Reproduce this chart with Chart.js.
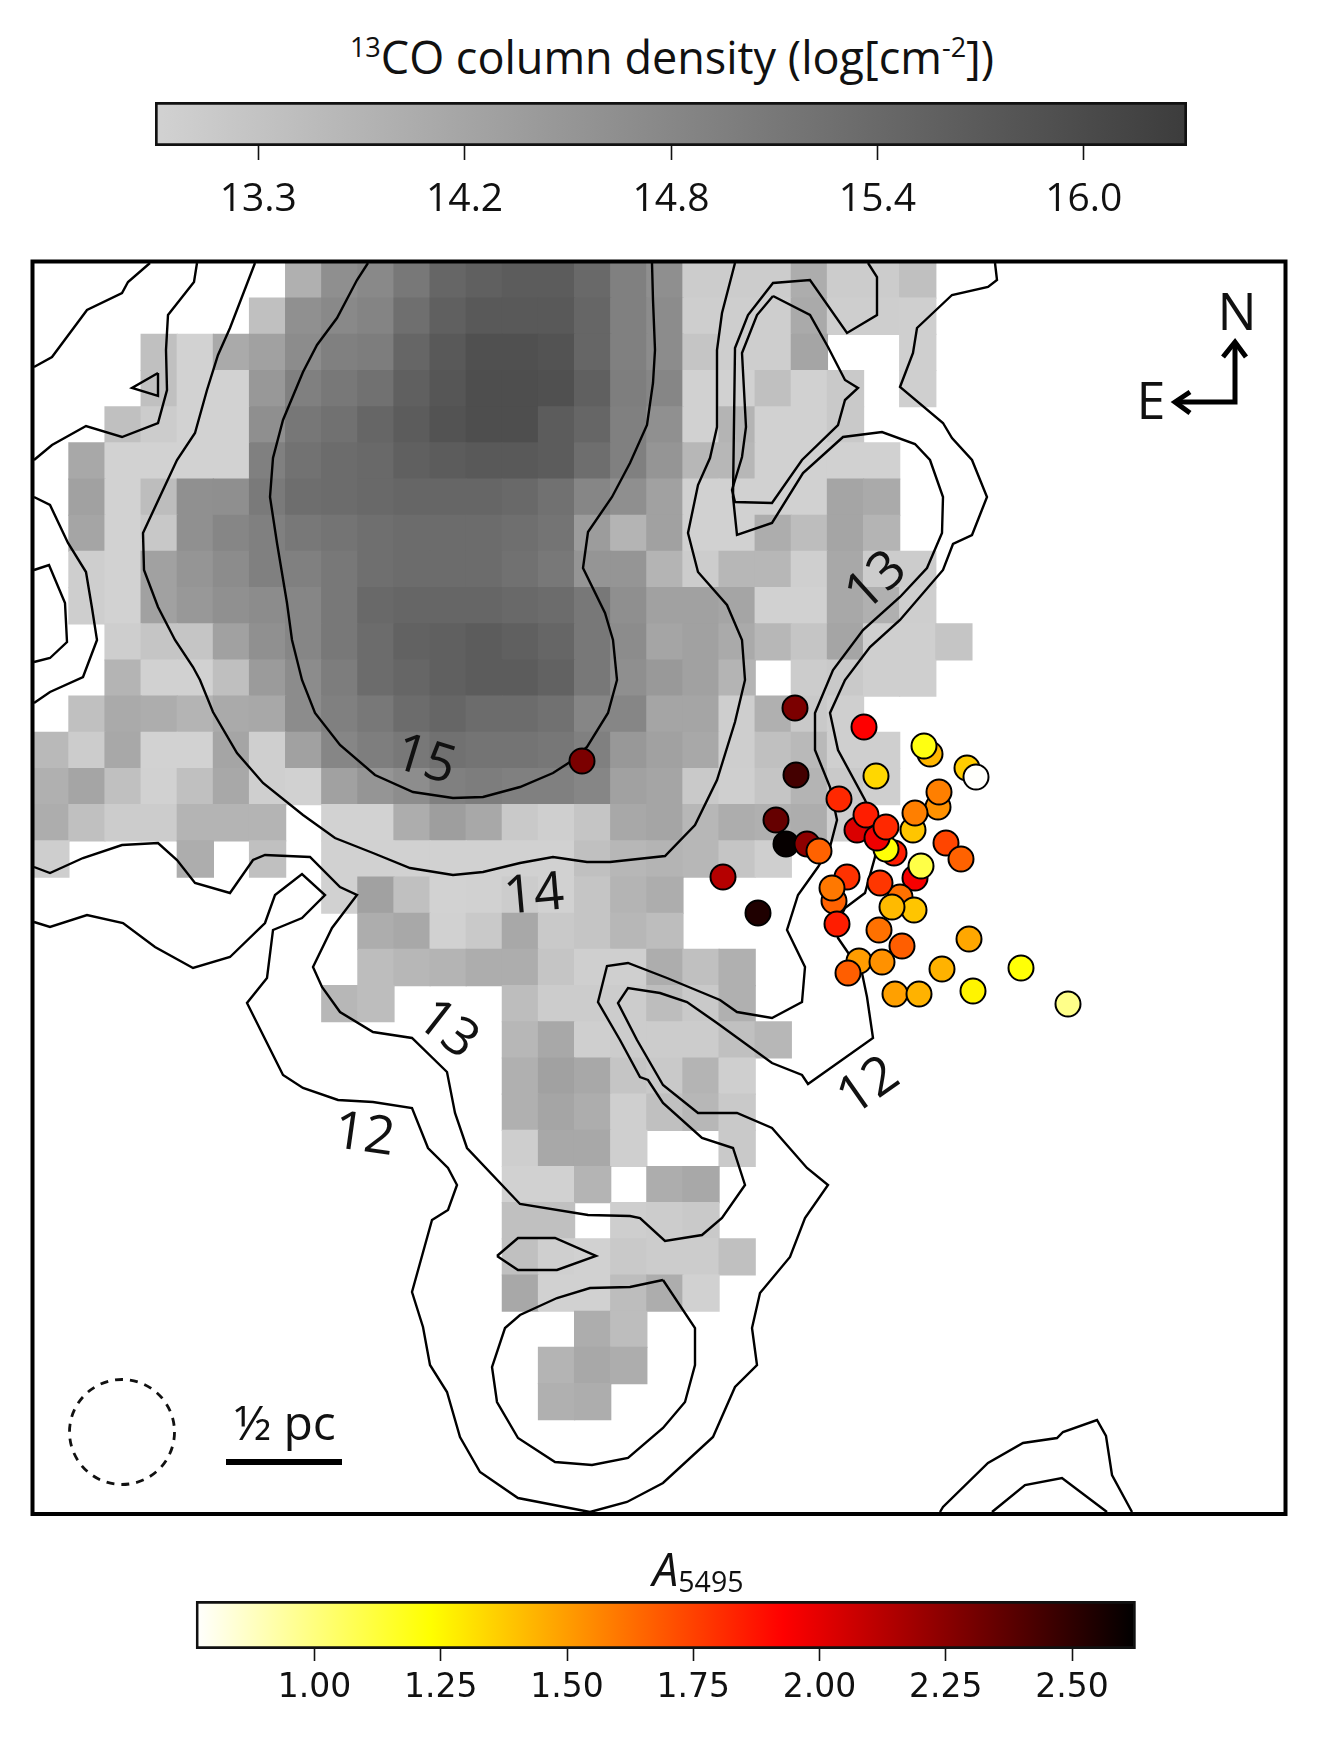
<!DOCTYPE html>
<html>
<head>
<meta charset="utf-8">
<title>13CO column density</title>
<script src="https://cdn.jsdelivr.net/npm/chart.js@4"></script>
<style>
  html, body { margin: 0; padding: 0; background: #fff; }
  #page { position: relative; width: 1318px; height: 1754px; overflow: hidden; }
  canvas { position: absolute; left: 0; }
  .title { position: absolute; white-space: nowrap; transform: translateX(-50%); font-family: "Open Sans", sans-serif; color: #111; }
  .title sup { font-size: 60%; line-height: 0; vertical-align: 0.62em; }
  .title sub { font-size: 62%; line-height: 0; vertical-align: -0.22em; }
  .title i { font-style: italic; }
</style>
</head>
<body>
<div id="page">
  <div class="title" id="coTitle" style="left:672px;top:26px;font-size:45px"><sup>13</sup>CO column density (log[cm<sup>-2</sup>])</div>
  <canvas id="coBar" width="1318" height="130" style="top:90px"></canvas>
  <canvas id="map" width="1318" height="1316" style="top:230px"></canvas>
  <div class="title" id="aTitle" style="left:698px;top:1537px;font-size:46px"><i>A</i><sub>5495</sub></div>
  <canvas id="aBar" width="1318" height="160" style="top:1590px"></canvas>
</div>
<script>
const _ = null;

// colourbar ticks
const coTickPos = [0, 1, 2, 3, 4];
const coTickLabels = ['13.3', '14.2', '14.8', '15.4', '16.0'];
const aTicks = [1.0, 1.25, 1.5, 1.75, 2.0, 2.25, 2.5];

// 13CO cells, one row per line, level = % along the grey colourbar, _ = no data
const cellRows = [
  [_,_,_,_,_,_,_,23,45,49,60,72,76,79,79,70,55,45,4,4,4,25,4,4,12],
  [_,_,_,_,_,_,12,44,49,52,66,76,81,81,81,72,55,47,3,3,3,27,3,3,2],
  [_,_,_,12,0,27,33,47,55,57,72,81,87,87,85,72,55,47,9,3,3,30,_,_,2],
  [_,_,_,12,0,0,39,55,60,65,76,83,88,88,87,76,56,51,1,1,12,1,6,_,2],
  [_,_,12,4,0,0,45,61,65,72,79,85,88,88,79,72,55,44,1,20,1,1,6],
  [_,28,0,0,0,0,55,64,68,70,76,79,81,81,79,67,55,41,18,18,1,1,1,1],
  [_,33,0,14,44,45,59,67,68,70,72,72,72,70,65,51,45,33,1,1,1,1,30,27],
  [_,30,0,7,44,51,55,60,63,66,68,68,68,66,63,36,20,33,1,1,25,14,30,20],
  [_,3,0,33,41,47,55,55,60,66,68,68,68,65,60,41,41,20,4,18,18,2,28,4,4],
  [_,3,0,33,39,44,47,51,60,70,72,72,72,70,68,60,45,33,33,30,1,1,28,23,3],
  [_,_,3,9,9,33,44,51,60,68,75,76,79,76,72,60,47,30,33,27,18,9,30,2,2,9],
  [_,_,20,1,1,13,37,47,57,68,72,76,79,79,75,60,45,38,33,20,_,4,6,2,2],
  [_,12,27,25,20,27,28,47,55,60,68,72,68,68,65,51,51,30,30,3,23,6,2],
  [17,4,28,0,0,30,2,33,51,56,60,65,63,63,61,55,39,33,28,3,12,17,2,2],
  [23,30,12,1,12,28,2,1,33,41,46,55,57,55,55,51,33,30,6,2,9,20,6,2],
  [25,12,4,4,20,20,20,_,0,0,25,35,28,6,2,9,28,30,18,25,23,25,2],
  [3,_,_,_,25,_,12,_,1,1,1,1,1,1,1,12,18,20,18,9,2],
  [_,_,_,_,_,_,_,_,1,33,12,0,1,4,1,9,20,25],
  [_,_,_,_,_,_,_,_,_,25,28,1,6,28,6,9,18,14],
  [_,_,_,_,_,_,_,_,_,14,18,20,25,25,9,2,2,25,12,23],
  [_,_,_,_,_,_,_,_,18,14,_,_,_,14,4,4,4,14,6,23],
  [_,_,_,_,_,_,_,_,_,_,_,_,_,18,28,2,4,4,4,12,18],
  [_,_,_,_,_,_,_,_,_,_,_,_,_,23,33,28,9,6,20,2],
  [_,_,_,_,_,_,_,_,_,_,_,_,_,23,30,25,2,12,18,6],
  [_,_,_,_,_,_,_,_,_,_,_,_,_,3,28,28,2,_,_,6],
  [_,_,_,_,_,_,_,_,_,_,_,_,_,1,1,20,_,25,28],
  [_,_,_,_,_,_,_,_,_,_,_,_,_,12,12,_,3,4,6],
  [_,_,_,_,_,_,_,_,_,_,_,_,_,12,2,1,6,4,4,12],
  [_,_,_,_,_,_,_,_,_,_,_,_,_,28,1,1,14,25,1],
  [_,_,_,_,_,_,_,_,_,_,_,_,_,_,_,25,14],
  [_,_,_,_,_,_,_,_,_,_,_,_,_,_,20,28,25],
  [_,_,_,_,_,_,_,_,_,_,_,_,_,_,23,25]
];

// stars: map position and extinction, in drawing order
const starX = [795,864,930,924,967,976,876,796,839,938,939,913,915,776,894,886,857,877,866,886,946,961,786,807,819,915,921,723,847,834,832,900,880,914,892,758,837,879,902,969,859,882,848,942,1021,973,895,919,1068,582];
const starY = [708,727,754,746,768,777,776,775,799,807,792,830,813,820,853,849,830,838,815,827,843,859,844,844,851,878,866,877,877,901,888,897,883,910,907,913,924,930,946,939,961,962,973,969,968,991,994,994,1004,761];
const starA = [2.29,1.93,1.43,1.2,1.37,0.77,1.34,2.44,1.82,1.53,1.58,1.39,1.58,2.35,1.85,1.22,2.03,1.97,1.85,1.82,1.74,1.66,2.61,2.24,1.66,1.95,1.1,2.13,1.79,1.66,1.6,1.62,1.78,1.39,1.42,2.54,1.85,1.62,1.67,1.47,1.5,1.53,1.67,1.44,1.22,1.26,1.49,1.44,0.98,2.29];

// contours, map coordinates
const contour15 = [[368,263],[357,280],[337,318],[317,345],[303,372],[283,420],[273,458],[270,497],[277,543],[287,603],[292,640],[302,680],[315,713],[340,745],[375,775],[413,792],[453,798],[483,797],[520,787],[553,773],[570,762],[587,747],[608,713],[617,680],[613,640],[605,613],[583,568],[588,532],[612,497],[630,463],[647,425],[653,383],[655,350],[653,300],[652,263]];
const contour14 = [[255,263],[230,328],[218,355],[207,390],[195,433],[177,460],[163,490],[143,533],[144,570],[158,607],[175,640],[193,667],[200,680],[213,712],[237,753],[263,783],[303,815],[335,838],[373,853],[410,868],[453,875],[483,872],[520,863],[553,857],[587,862],[610,862],[665,856],[695,825],[717,780],[735,722],[745,680],[742,640],[727,605],[698,572],[688,533],[698,485],[710,458],[717,427],[717,350],[722,313],[735,263]];
const contour13 = [[34,867],[50,873],[83,858],[122,845],[158,843],[177,860],[195,883],[230,893],[253,860],[265,855],[310,857],[340,887],[357,895],[332,928],[313,967],[322,987],[340,1012],[373,1032],[412,1038],[447,1072],[455,1113],[467,1148],[520,1204],[588,1215],[630,1216],[640,1218],[665,1241],[702,1235],[722,1218],[745,1185],[733,1148],[702,1138],[663,1103],[648,1080],[640,1077],[620,1040],[598,1002],[607,966],[628,963],[667,978],[720,1000],[737,1012],[772,1018],[802,1002],[805,967],[787,930],[798,895],[818,867],[830,847],[837,820],[830,787],[815,750],[815,713],[833,670],[863,630],[900,597],[927,568],[942,533],[943,497],[930,460],[915,444],[882,432],[843,437],[803,473],[772,523],[737,535],[733,497],[735,348],[748,315],[773,283],[810,280],[847,333],[877,315],[877,277],[868,263]];
const contour12 = [[34,922],[50,927],[87,915],[123,923],[155,947],[193,968],[230,957],[265,923],[275,895],[302,874],[325,895],[302,918],[273,930],[267,978],[247,1003],[267,1043],[283,1075],[303,1088],[338,1100],[373,1102],[412,1108],[428,1148],[448,1168],[457,1185],[448,1210],[432,1220],[412,1292],[423,1327],[430,1365],[447,1392],[460,1437],[480,1472],[518,1498],[590,1512],[627,1502],[663,1483],[713,1437],[735,1387],[757,1365],[752,1328],[760,1293],[790,1257],[805,1218],[828,1185],[807,1168],[772,1128],[737,1113],[698,1113],[663,1085],[637,1040],[618,1003],[628,988],[660,993],[687,1002],[717,1023],[772,1063],[802,1075],[808,1084],[873,1038],[867,997],[862,973],[838,938],[837,924],[845,908],[865,893],[875,857],[877,827],[865,800],[838,750],[830,713],[845,680],[870,647],[900,620],[943,570],[953,544],[972,535],[987,497],[972,460],[952,438],[943,423],[900,387],[913,353],[917,328],[952,295],[988,287],[997,280],[995,263]];
const ridgeLoop = [[773,296],[810,315],[828,347],[845,380],[858,388],[845,400],[838,425],[802,460],[772,503],[735,502],[732,490],[742,457],[746,427],[742,353],[757,315],[773,296]];
const smallTriangle = [[158,373],[132,388],[158,396],[158,373]];
const topLeftOuter = [[150,263],[128,282],[122,293],[87,310],[52,357],[34,367]];
const topLeftInner = [[197,263],[194,282],[168,315],[166,350],[167,390],[158,423],[122,437],[86,426],[52,445],[34,460]];
const leftOuter = [[34,497],[50,505],[68,543],[86,572],[92,608],[97,640],[83,677],[50,692],[34,703]];
const leftInner = [[34,570],[49,565],[65,603],[67,642],[50,658],[34,662]];
const lens = [[497,1256],[518,1238],[555,1238],[596,1256],[557,1270],[518,1270],[497,1256]];
const bottomLoop = [[663,1280],[695,1328],[695,1365],[685,1402],[663,1428],[628,1458],[592,1465],[555,1462],[518,1438],[497,1402],[492,1367],[505,1328],[520,1315],[557,1298],[590,1288],[630,1287],[663,1280]];
const cornerOuter = [[940,1512],[943,1507],[988,1463],[1023,1443],[1057,1438],[1063,1432],[1097,1420],[1106,1436],[1112,1475],[1132,1512]];
const cornerInner = [[992,1512],[1025,1485],[1062,1478],[1107,1512]];
const contours = [contour15, contour14, contour13, contour12, ridgeLoop, smallTriangle, topLeftOuter, topLeftInner, leftOuter, leftInner, lens, bottomLoop, cornerOuter, cornerInner];

// map annotations
const contourLabels = [
  ['15', 425, 761, 17], ['14', 534, 896, -5], ['13', 877, 582, -42],
  ['13', 447, 1030, 38], ['12', 364, 1136, 8], ['12', 869, 1087, -35]
];
const northArrow = [[1235,342],[1235,402],[1175,402]];
const northHead = [[1223,357],[1235,342],[1246,357]];
const eastHead = [[1190,392],[1175,402],[1190,413]];
const scaleBar = [[226,1462],[342,1462]];
const beam = { x: 122, y: 1432, r: 52.5 };

// plot frame and grid layout in map coordinates
const mapLeft = 32.5, mapRight = 1285.5, mapTop = 261.5, mapBottom = 1514;
const cellX0 = 32.8, cellY0 = 262, cellW = 36.12, cellH = 36.18;

const aMin = 0.765, aMax = 2.626;
const hotStops = [[0, [255,255,255]], [0.25, [255,255,0]], [0.625, [255,0,0]], [1, [0,0,0]]];

function hotColor(a) {
    let t = Math.min(1, Math.max(0, (a - aMin) / (aMax - aMin)));
    for (let i = 1; i < hotStops.length; i++) {
        let lo = hotStops[i - 1], hi = hotStops[i];
        if (t <= hi[0]) {
            let f = (t - lo[0]) / (hi[0] - lo[0]);
            let c = lo[1].map((v, k) => Math.round(v + (hi[1][k] - v) * f));
            return 'rgb(' + c.join(',') + ')';
        }
    }
    return '#000';
}

function greyColor(level) {
    let g = Math.round(210 - 1.5 * level);
    return 'rgb(' + g + ',' + g + ',' + g + ')';
}

function toPoints(line) {
    return line.map(p => ({x: p[0], y: p[1]}));
}

let cellPoints = [], cellColors = [];
cellRows.forEach((row, j) => {
    row.forEach((level, i) => {
        if (level === null) return;
        cellPoints.push({x: cellX0 + cellW * (i + 0.5), y: cellY0 + cellH * (j + 0.5)});
        cellColors.push(greyColor(level));
    });
});

function annotationLine(line, width) {
    return {
        data: toPoints(line),
        showLine: true,
        pointRadius: 0,
        borderColor: '#000',
        borderWidth: width,
        borderJoinStyle: 'miter',
        order: 1
    };
}

const mapExtras = {
    id: 'mapExtras',
    afterDatasetsDraw(chart) {
        let ctx = chart.ctx, sx = chart.scales.x, sy = chart.scales.y, area = chart.chartArea;
        ctx.save();
        ctx.fillStyle = '#111';
        ctx.textAlign = 'center';
        ctx.textBaseline = 'middle';
        ctx.font = '53px "Open Sans"';
        for (let [text, x, y, angle] of contourLabels) {
            ctx.save();
            ctx.translate(sx.getPixelForValue(x), sy.getPixelForValue(y));
            ctx.rotate(angle * Math.PI / 180);
            ctx.fillText(text, 0, 0);
            ctx.restore();
        }
        ctx.font = '52px "Open Sans"';
        ctx.fillText('N', sx.getPixelForValue(1237), sy.getPixelForValue(315));
        ctx.fillText('E', sx.getPixelForValue(1151), sy.getPixelForValue(404));
        ctx.font = '48px "Open Sans"';
        ctx.fillText('½ pc', sx.getPixelForValue(285), sy.getPixelForValue(1426));

        ctx.strokeStyle = '#111';
        ctx.lineWidth = 2.8;
        ctx.setLineDash([8, 7]);
        ctx.beginPath();
        ctx.arc(sx.getPixelForValue(beam.x), sy.getPixelForValue(beam.y), beam.r, 0, 2 * Math.PI);
        ctx.stroke();

        ctx.setLineDash([]);
        ctx.strokeStyle = '#000';
        ctx.lineWidth = 4;
        ctx.strokeRect(area.left, area.top, area.right - area.left, area.bottom - area.top);
        ctx.restore();
    }
};

new Chart(document.getElementById('map'), {
    type: 'scatter',
    data: {
        datasets: [
            {
                data: starX.map((x, i) => ({x: x, y: starY[i]})),
                backgroundColor: starA.map(hotColor),
                borderColor: '#000',
                borderWidth: 2,
                pointRadius: 12.5,
                order: 0
            },
            ...contours.map(line => annotationLine(line, 2.4)),
            annotationLine(northArrow, 5),
            annotationLine(northHead, 5),
            annotationLine(eastHead, 5),
            annotationLine(scaleBar, 6),
            {
                data: cellPoints,
                pointStyle: 'rect',
                pointRadius: 26.4,
                pointBorderWidth: 0,
                backgroundColor: cellColors,
                borderWidth: 0,
                order: 2
            }
        ]
    },
    options: {
        responsive: false,
        animation: false,
        events: [],
        // padding stays above the biggest point radius, chart.js widens it otherwise
        layout: {padding: {left: mapLeft, right: 1318 - mapRight, top: mapTop - 230, bottom: 230 + 1316 - mapBottom}},
        plugins: {legend: {display: false}, tooltip: {enabled: false}},
        scales: {
            x: {type: 'linear', display: false, min: mapLeft, max: mapRight},
            y: {type: 'linear', display: false, min: mapTop, max: mapBottom, reverse: true}
        }
    },
    plugins: [mapExtras]
});

function colourBar(canvasId, opts) {
    return new Chart(document.getElementById(canvasId), {
        type: 'bar',
        data: {
            labels: [''],
            datasets: [{
                data: [[opts.min, opts.max]],
                backgroundColor(ctx) {
                    let area = ctx.chart.chartArea;
                    if (!area) return '#888';
                    let g = ctx.chart.ctx.createLinearGradient(area.left, 0, area.right, 0);
                    opts.stops.forEach(s => g.addColorStop(s[0], s[1]));
                    return g;
                },
                borderColor: '#111',
                borderWidth: 3,
                borderSkipped: false,
                barPercentage: 1,
                categoryPercentage: 1
            }]
        },
        options: {
            indexAxis: 'y',
            responsive: false,
            animation: false,
            events: [],
            layout: {padding: opts.padding},
            plugins: {legend: {display: false}, tooltip: {enabled: false}},
            scales: {
                y: {display: false},
                x: {
                    type: 'linear',
                    min: opts.min,
                    max: opts.max,
                    afterFit(s) { s.height = opts.axisHeight; },
                    afterBuildTicks(s) { s.ticks = opts.ticks.map(v => ({value: v})); },
                    border: {display: false},
                    grid: {drawOnChartArea: false, drawTicks: true, tickLength: opts.tickLength, tickColor: '#111', tickWidth: 1.6},
                    ticks: {
                        autoSkip: false,
                        maxRotation: 0,
                        color: '#111',
                        padding: opts.labelPad,
                        font: opts.font,
                        callback: opts.format
                    }
                }
            }
        }
    });
}

colourBar('coBar', {
    min: -0.5, max: 4.5,
    ticks: coTickPos,
    format: v => coTickLabels[v],
    stops: [[0, '#d2d2d2'], [1, '#3c3c3c']],
    padding: {left: 155, right: 131, top: 12, bottom: 0},
    axisHeight: 74,
    tickLength: 14,
    labelPad: 16,
    font: {family: '"Open Sans"', size: 39}
});

colourBar('aBar', {
    min: aMin, max: aMax,
    ticks: aTicks,
    format: v => v.toFixed(2),
    stops: hotStops.map(s => [s[0], 'rgb(' + s[1].join(',') + ')']),
    padding: {left: 195.8, right: 182.3, top: 11, bottom: 0},
    axisHeight: 101,
    tickLength: 12,
    labelPad: 8,
    font: {family: '"DejaVu Sans"', size: 33}
});
</script>
</body>
</html>
